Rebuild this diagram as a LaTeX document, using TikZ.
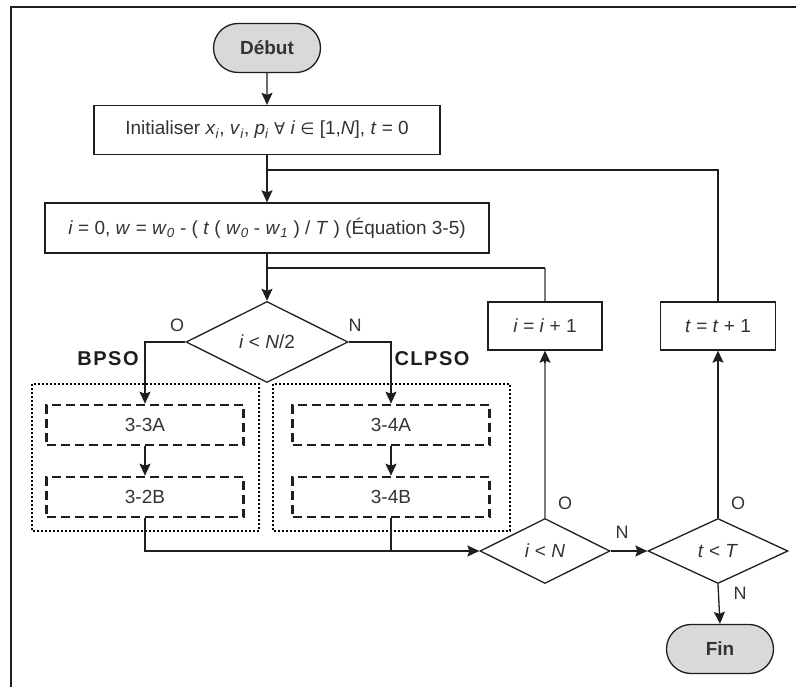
\documentclass[tikz,border=0pt]{standalone}
\usepackage{fontspec}
\setmainfont{Liberation Sans}
\newfontfamily\symfont[Scale=0.85]{DejaVu Sans}
\usetikzlibrary{arrows.meta,shapes.geometric,shapes.misc}

\definecolor{ink}{HTML}{1E1E1E}
\definecolor{txt}{HTML}{333333}
\definecolor{termfill}{HTML}{D9D9D9}
\definecolor{loopgray}{HTML}{7A7A7A}

\newcommand\iv[1]{\textit{#1}}
\newcommand\idx[2]{\textit{#1}\textsubscript{\textit{#2}}}

\tikzset{
  base/.style={draw=ink, line width=1.3pt, text=txt, inner sep=0pt, align=center,
    font=\fontsize{19}{21}\selectfont},
  terminal/.style={base, rounded rectangle, fill=termfill, minimum width=107pt,
    minimum height=49pt, font=\fontsize{19}{21}\selectfont\bfseries},
  process/.style={base, rectangle, minimum height=49pt},
  decision/.style={base, diamond, aspect=2},
  substep/.style={base, rectangle, line width=2.6pt, dash pattern=on 9pt off 5pt,
    minimum width=197pt, minimum height=40pt},
  group/.style={draw=black, line width=2.6pt, dash pattern=on 2pt off 2pt},
  flow/.style={draw=ink, line width=1.3pt, -{Stealth[length=12pt,width=11pt,inset=2pt]}},
  link/.style={draw=ink, line width=1.3pt},
  tag/.style={text=txt, inner sep=0pt, font=\fontsize{18}{20}\selectfont},
  algo/.style={text=ink, inner sep=0pt, font=\fontsize{20}{22}\selectfont\bfseries},
}

\begin{document}
\begin{tikzpicture}[x=1pt,y=-1pt]
  \useasboundingbox (0,0) rectangle (796,687);
  \fill[white] (0,0) rectangle (796,687);

  % page frame
  \draw[ink, line width=2.4pt] (11,687) -- (11,7) -- (796,7);

  % dotted group frames
  \draw[group] (32,384) rectangle (259,531);
  \draw[group] (273,384) rectangle (510,531);

  % main column
  \node[terminal] (debut) at (267,48) {Début};
  \node[process, minimum width=346pt] (init) at (267,130)
    {Initialiser \idx{x}{i}, \idx{v}{i}, \idx{p}{i} {\symfont ∀} \iv{i} {\symfont ∈} [1,\iv{N}], \iv{t} = 0};
  \node[process, minimum width=444pt, minimum height=50pt] (eq) at (267,228)
    {\iv{i} = 0, \iv{w} = \idx{w}{0} - ( \iv{t} ( \idx{w}{0} - \idx{w}{1} ) / \iv{T} ) (Équation 3-5)};
  \node[decision, minimum width=162pt, minimum height=81pt] (half) at (267,342) {\iv{i} < \iv{N}/2};

  % sub-steps
  \node[substep] (a3) at (145,425) {3-3A};
  \node[substep] (b2) at (145,497) {3-2B};
  \node[substep] (a4) at (391,425) {3-4A};
  \node[substep] (b4) at (391,497) {3-4B};

  % loop tests
  \node[decision, minimum width=130pt, minimum height=65pt] (itest) at (545,551) {\iv{i} < \iv{N}};
  \node[decision, minimum width=140pt, minimum height=65pt] (ttest) at (718,551) {\iv{t} < \iv{T}};
  \node[process, minimum width=114pt, minimum height=48pt] (iinc) at (545,326) {\iv{i} = \iv{i} + 1};
  \node[process, minimum width=115pt, minimum height=48pt] (tinc) at (718,326) {\iv{t} = \iv{t} + 1};
  \node[terminal] (fin) at (720,649) {Fin};

  % junction points
  \coordinate (jt) at (267,170);
  \coordinate (ji) at (267,268);
  \coordinate (jm) at (391,551);
  \coordinate (tipi) at ([yshift=-12pt]iinc.south);

  % connectors
  \draw[flow] (debut) -- (init);
  \draw[flow] (init) -- (eq);
  \draw[link] (tinc.north) |- (jt);
  \draw[flow] (eq) -- (half);
  \draw[loopgray, line width=1.3pt] (iinc.north) -- (iinc.north |- ji);
  \draw[link] (iinc.north |- ji) -- (ji);

  \draw[flow] (half.west) -| (a3.north);
  \draw[flow] (half.east) -| (a4.north);
  \draw[flow] (a3) -- (b2);
  \draw[flow] (a4) -- (b4);
  \draw[flow] (b2.south) |- (itest.west);
  \draw[link] (b4.south) -- (jm);

  \draw[loopgray, line width=1.3pt] (itest.north) -- (tipi);
  \draw[flow] (tipi) -- (iinc.south);
  \draw[flow] (itest.east) -- (ttest.west);
  \draw[flow] (ttest.north) -- (tinc.south);
  \draw[flow] (ttest.south) -- (fin.north);

  % branch labels
  \node[tag] (lo1) at (177,325) {O};
  \node[tag] (ln1) at (355,325) {N};
  \node[algo] (lb) at (108,359) {B\kern1.5pt P\kern1.5pt S\kern1.5pt O};
  \node[algo] (lc) at (432,359) {C\kern1.5pt L\kern1.5pt P\kern1.5pt S\kern1.5pt O};
  \node[tag] (lo2) at (565,503) {O};
  \node[tag] (ln2) at (622,532) {N};
  \node[tag] (lo3) at (738,503) {O};
  \node[tag] (ln3) at (740,593) {N};
\end{tikzpicture}
\end{document}
